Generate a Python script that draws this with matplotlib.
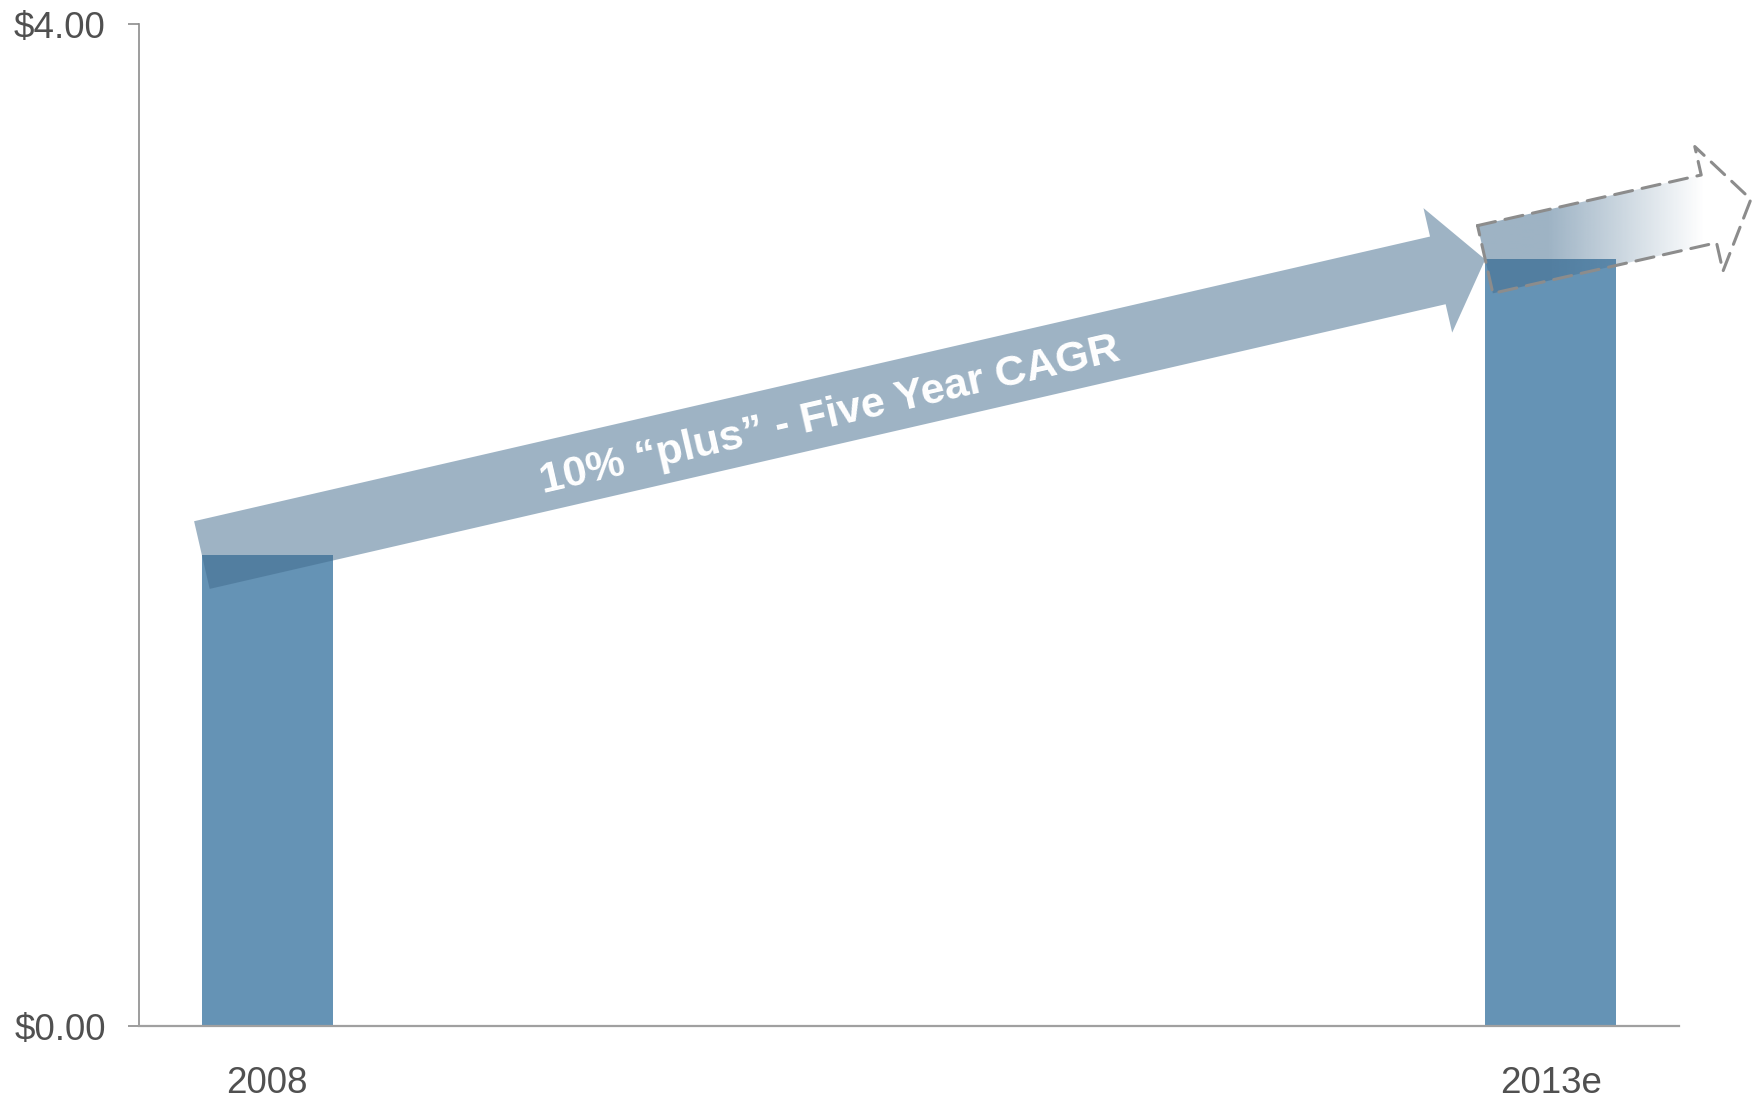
import numpy as np
import matplotlib
matplotlib.use("Agg")
import matplotlib.pyplot as plt
import matplotlib.transforms as mtransforms
from matplotlib.patches import FancyArrowPatch
from matplotlib.colors import to_rgb

# ---- data ----
categories = ["2008", "2013e"]
values = [1.88, 3.06]
projection_end = (1.156, 3.30)   # dashed "continuation" arrow tip (x position, value)
y_ticks = [0, 4]
y_tick_labels = ["$0.00", "$4.00"]
arrow_label = "10% \u201cplus\u201d - Five Year CAGR"

plt.rcParams['font.family'] = ['Liberation Sans', 'DejaVu Sans']

W, H, DPI = 1761, 1099, 100
fig = plt.figure(figsize=(W / DPI, H / DPI), dpi=DPI)
ax = fig.add_axes([139 / W, 1 - 1026 / H, (1679 - 139) / W, (1026 - 24) / H])

bar_color = "#6593b5"
arrow_rgb = to_rgb("#416b8d")
arrow_alpha = 0.51
grey = "#8c8c8c"
txt = "#505050"

x = np.arange(len(categories))
bw = 0.102
ax.bar(x, values, width=bw, color=bar_color, zorder=2)

ax.set_xlim(-0.1, 1.1)
ax.set_ylim(0, 4)
ax.set_xticks(x)
ax.set_xticklabels(categories, fontsize=26.5, color=txt)
ax.set_yticks(y_ticks)
ax.set_yticklabels(y_tick_labels, fontsize=26.5, color=txt)
ax.tick_params(axis='x', length=0, pad=29)
ax.tick_params(axis='y', length=8, width=1.2, color=grey, pad=16)
for s in ["top", "right"]:
    ax.spines[s].set_visible(False)
ax.spines["left"].set_color(grey)
ax.spines["left"].set_linewidth(1.2)
ax.spines["bottom"].set_color("#a0a0a0")
ax.spines["bottom"].set_linewidth(1.6)

# main growth arrow: from 2008 bar top-left corner to 2013e bar top-left corner
start = (x[0] - bw / 2, values[0])
end = (x[1] - bw / 2, values[1])
style = "simple,head_length=35,head_width=92,tail_width=50"
style2 = "simple,head_length=31,head_width=92,tail_width=50"
main = FancyArrowPatch(start, end, arrowstyle=style, mutation_scale=1,
                       shrinkA=0, shrinkB=0, color=arrow_rgb, alpha=arrow_alpha,
                       linewidth=0, zorder=3, clip_on=False)
ax.add_patch(main)

# label along the arrow
p0 = ax.transData.transform(start)
p1 = ax.transData.transform(end)
ang = np.degrees(np.arctan2(p1[1] - p0[1], p1[0] - p0[0]))
f = 0.488
tx = start[0] + f * (end[0] - start[0])
ty = start[1] + f * (end[1] - start[1])
th = np.radians(ang)
off = mtransforms.offset_copy(ax.transData, fig=fig, x=4 * np.sin(th), y=-4 * np.cos(th), units='points')
ax.text(tx, ty, arrow_label, rotation=ang, rotation_mode='anchor', transform=off,
        ha='center', va='center', fontsize=31, fontweight='bold', color='white', zorder=4)

# dashed projection arrow with gradient fill
clip_arrow = FancyArrowPatch(end, projection_end, arrowstyle=style2, mutation_scale=1,
                             shrinkA=0, shrinkB=0, facecolor='none', edgecolor='none',
                             zorder=3, clip_on=False)
ax.add_patch(clip_arrow)
ncol = 256
xs = np.linspace(0, 1, ncol)
alpha_ramp = np.clip(1 - (xs - 0.3) / 0.52, 0, 1) * arrow_alpha
img = np.zeros((2, ncol, 4))
img[..., 0], img[..., 1], img[..., 2] = arrow_rgb
img[..., 3] = alpha_ramp
im = ax.imshow(img, extent=[end[0] - 0.02, projection_end[0] + 0.005, 2.8, 3.7],
               aspect='auto', zorder=3, interpolation='bilinear', origin='lower')
im.set_clip_box(fig.bbox)
im.set_clip_path(clip_arrow)
outline = FancyArrowPatch(end, projection_end, arrowstyle=style2, mutation_scale=1,
                          shrinkA=0, shrinkB=0, facecolor='none', edgecolor=grey,
                          linewidth=2.2, linestyle=(0, (6, 3.2)), zorder=4, clip_on=False)
ax.add_patch(outline)

ax.set_xlim(-0.1, 1.1)
ax.set_ylim(0, 4)

fig.savefig("out.png", dpi=DPI)
